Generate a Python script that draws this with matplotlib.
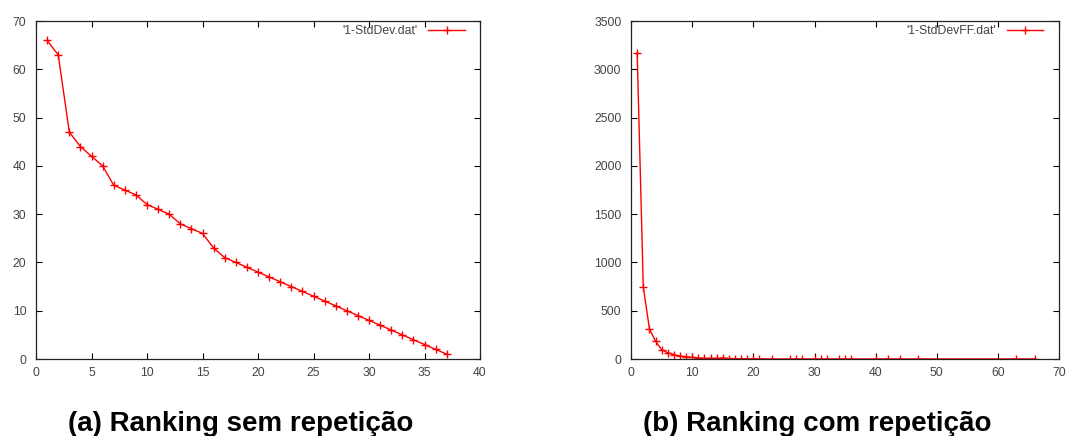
import numpy as np
import matplotlib
matplotlib.use('Agg')
import matplotlib.pyplot as plt

# ranking sem repeticao
rank_a = list(range(1, 38))
std_a = [66, 63, 47, 44, 42, 40, 36, 35, 34, 32, 31, 30, 28, 27, 26, 23, 21, 20, 19,
         18, 17, 16, 15, 14, 13, 12, 11, 10, 9, 8, 7, 6, 5, 4, 3, 2, 1]

# ranking com repeticao
rank_b = [1, 2, 3, 4, 5, 6, 7, 8, 9, 10, 11, 12, 13, 14, 15, 16, 17, 18, 19, 20, 21,
          23, 26, 27, 28, 30, 31, 32, 34, 35, 36, 40, 42, 44, 47, 63, 66]
std_b = [3165, 745, 314, 183, 97, 65, 45, 30, 24, 17, 10, 8, 7, 6, 12, 5, 3, 4, 2, 2, 2,
         1, 1, 1, 1, 1, 1, 1, 1, 1, 1, 1, 1, 1, 1, 1, 1]

label_a = "'1-StdDev.dat'"
label_b = "'1-StdDevFF.dat'"
caption_a = '(a) Ranking sem repetição'
caption_b = '(b) Ranking com repetição'

plt.rcParams['font.family'] = ['Liberation Sans', 'DejaVu Sans']

fig = plt.figure(figsize=(10.66, 4.36), dpi=100)
ax1 = fig.add_axes([0.0338, 0.1766, 0.4165, 0.775])
ax2 = fig.add_axes([0.592, 0.1766, 0.4015, 0.775])


def style(ax, xlim, ylim, xstep, ystep):
    ax.set_xlim(*xlim)
    ax.set_ylim(*ylim)
    ax.set_xticks(np.arange(xlim[0], xlim[1] + 1, xstep))
    ax.set_yticks(np.arange(ylim[0], ylim[1] + 1, ystep))
    ax.tick_params(direction='in', length=4, width=0.8, top=True, right=True,
                   labelsize=8.8, labelcolor='#444444')
    ax.tick_params(axis='x', pad=6)
    ax.tick_params(axis='y', pad=7)
    for s in ax.spines.values():
        s.set_linewidth(0.9)
        s.set_color('#222222')


ax1.plot(rank_a, std_a, color='red', lw=1, marker='+', ms=6, mew=1, label=label_a)
style(ax1, (0, 40), (0, 70), 5, 10)
ax2.plot(rank_b, std_b, color='red', lw=1, marker='+', ms=6, mew=1, label=label_b)
style(ax2, (0, 70), (0, 3500), 10, 500)

for ax, xr in ((ax1, 0.966), (ax2, 0.963)):
    leg = ax.legend(loc='upper right', bbox_to_anchor=(xr, 0.988), frameon=False,
                    fontsize=8.8, markerfirst=False, handlelength=3.0,
                    borderaxespad=0, borderpad=0, handletextpad=0.9)
    for t in leg.get_texts():
        t.set_color('#444444')

fig.text(0.226, 0.011, caption_a, ha='center', va='baseline', fontsize=20, fontweight='bold')
fig.text(0.767, 0.011, caption_b, ha='center', va='baseline', fontsize=20, fontweight='bold')

fig.savefig('out.png', dpi=100)
